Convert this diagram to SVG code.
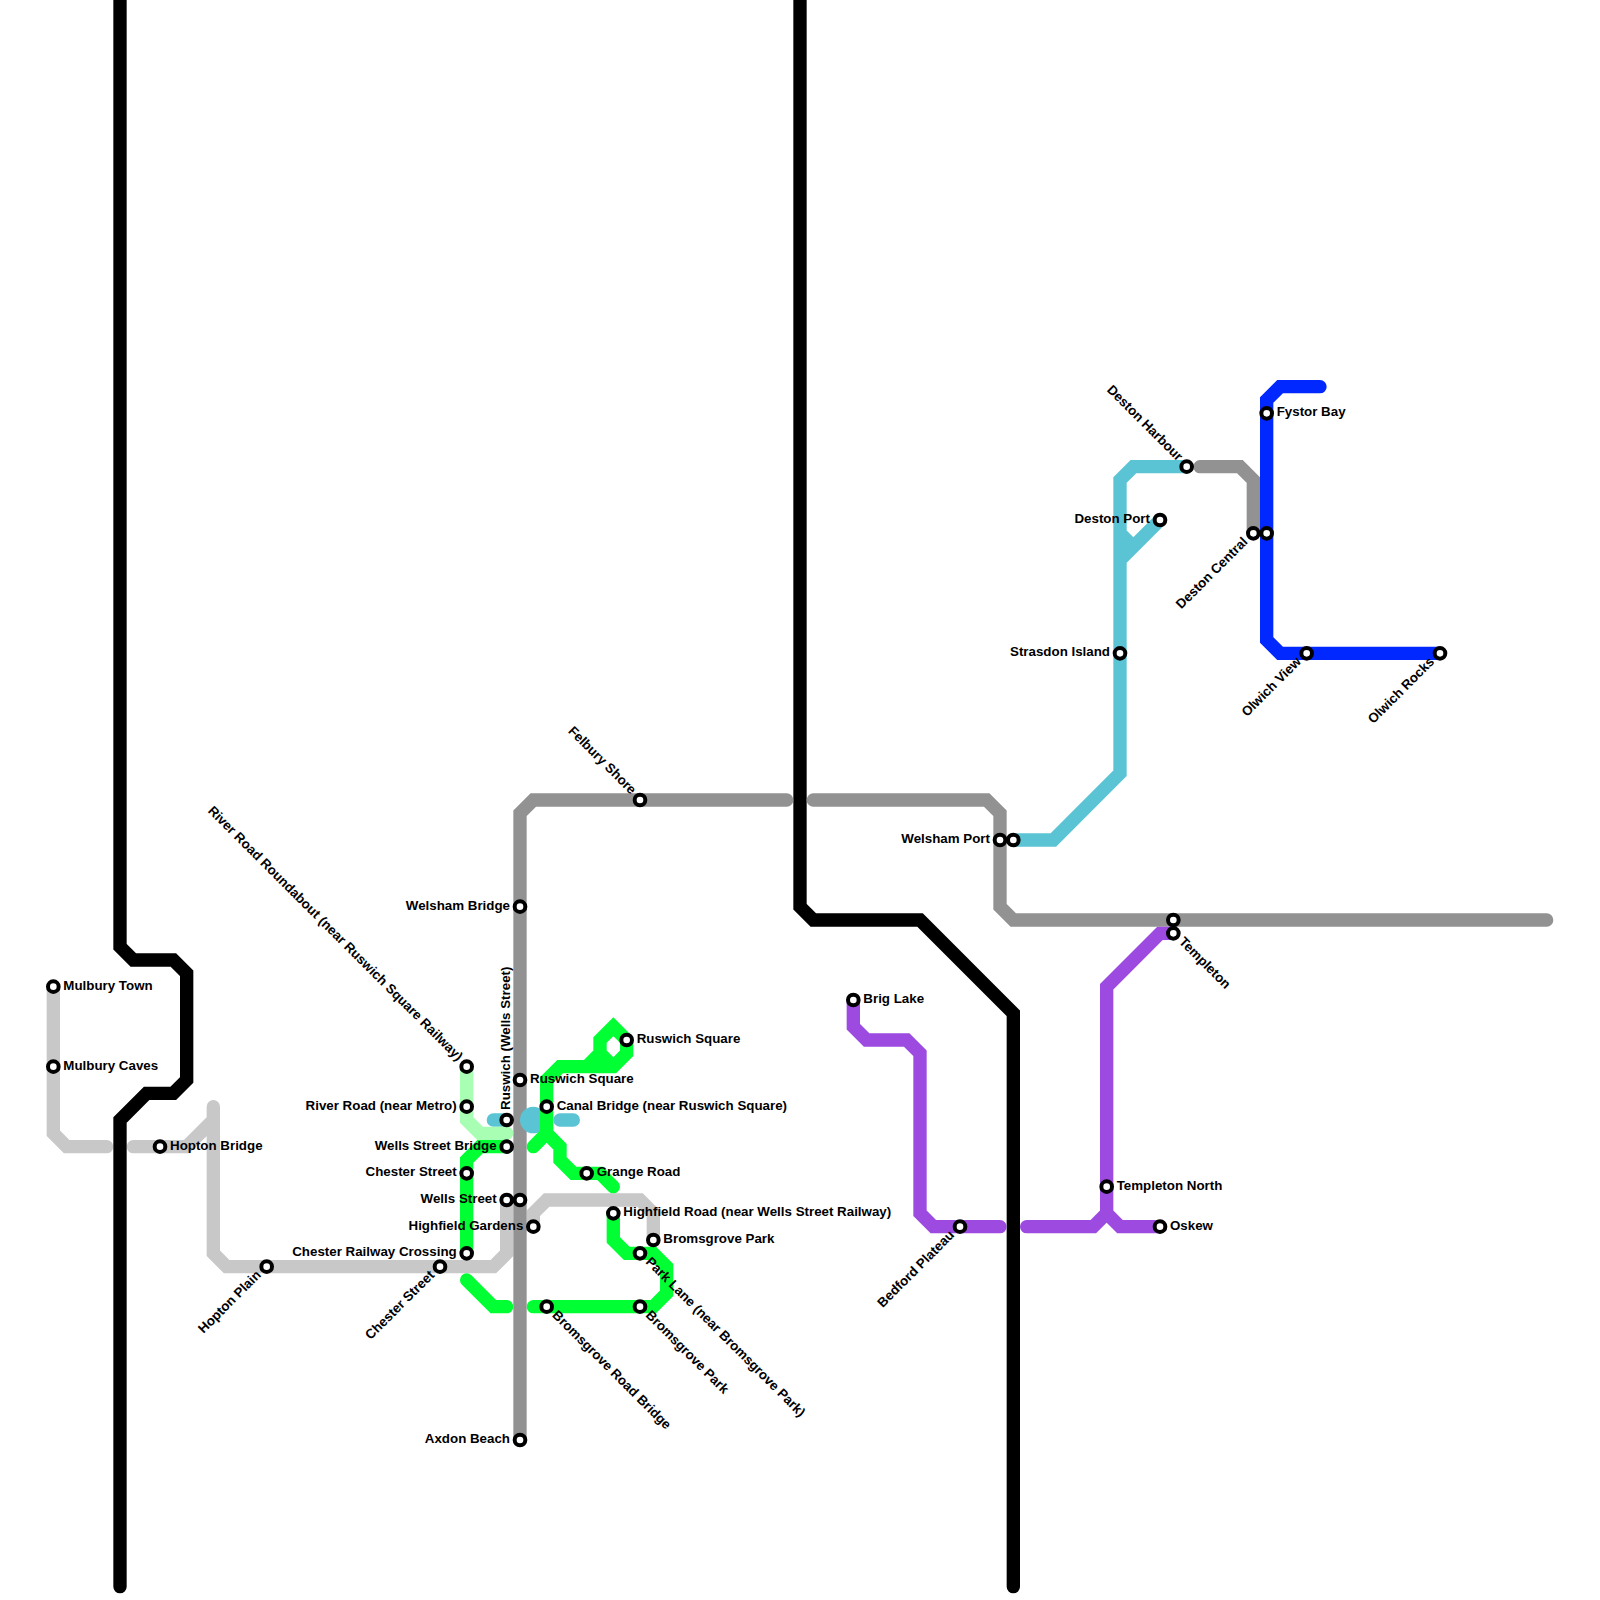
<svg xmlns="http://www.w3.org/2000/svg" width="1600" height="1600" viewBox="0 0 1600 1600">
<style>
.l{fill:none;stroke-width:1;stroke-linecap:round;stroke-linejoin:miter}
.k{stroke:#000}.lg{stroke:#c8c8c8}.dg{stroke:#929292}.c{stroke:#5bc4d4}.b{stroke:#0028ff}.p{stroke:#9d4ae0}.g{stroke:#00ff33}.lt{stroke:#a8ffb4}
.s{fill:#fff;stroke:#000;stroke-width:4}
text{font-family:"Liberation Sans",Arial,sans-serif;font-size:13.33px;font-weight:700;fill:#000}
.e{text-anchor:end}
</style>
<rect width="1600" height="1600" fill="#fff"/>
<g id="connectors" transform="scale(13.33333)">
<path class="l lg" d="M4 74V85L5 86H8M10 86H14L16 84M16 83V94L17 95H37L38 94V90M40 92V91L41 90H48L49 91V93"/>
<path class="l k" d="M9 0V71L10 72H13L14 73V81L13 82H11L9 84V119"/>
<path class="l k" d="M60 0V68L61 69H69L76 76V119"/>
<path class="l dg" d="M39 108V61L40 60H59M61 60H74L75 61V68L76 69H116"/>
<path class="l dg" d="M90 35H93L94 36V40"/>
<path class="l c" d="M76 63H79L84 58V36L85 35H89M87 39L84 42M84 40L85 41M37 84H38M42 84H43"/>
<circle cx="40" cy="84" r="1" fill="#5bc4d4"/>
<path class="l b" d="M99 29H96L95 30V48L96 49H108"/>
<path class="l p" d="M64 75V77L65 78H68L69 79V91L70 92H75M77 92H82L83 91V74L87 70H88M83 91L84 92H87"/>
<path class="l lt" d="M35 80V84L36 85H38"/>
<path class="l g" d="M38 86H36L35 87V94M35 96L37 98H38M46 91V93L47 94H49L50 95V97L49 98H40"/>
<path class="l g" d="M41 83V81L42 80H46L47 79V78L46 77L45 78V79L46 80M45 79L44 80M41 83V85L40 86M41 85L42 86V87L43 88H45L46 89"/>
</g>
<g id="n-mulbury-town"><circle class="s" cx="53.33" cy="986.67" r="5.33"/><text transform="translate(53.33,986.67)" x="10" y="3">Mulbury Town</text></g>
<g id="n-mulbury-caves"><circle class="s" cx="53.33" cy="1066.67" r="5.33"/><text transform="translate(53.33,1066.67)" x="10" y="3">Mulbury Caves</text></g>
<g id="n-hopton-bridge"><circle class="s" cx="160" cy="1146.67" r="5.33"/><text transform="translate(160,1146.67)" x="10" y="3">Hopton Bridge</text></g>
<g id="n-hopton-plain"><circle class="s" cx="266.67" cy="1266.67" r="5.33"/><text class="e" transform="translate(266.67,1266.67) rotate(-45)" x="-10" y="3">Hopton Plain</text></g>
<g id="n-chester-street-a"><circle class="s" cx="440" cy="1266.67" r="5.33"/><text class="e" transform="translate(440,1266.67) rotate(-45)" x="-10" y="3">Chester Street</text></g>
<g id="n-chester-railway"><circle class="s" cx="466.67" cy="1253.33" r="5.33"/><text class="e" transform="translate(466.67,1253.33)" x="-10" y="3">Chester Railway Crossing</text></g>
<g id="n-chester-street-b"><circle class="s" cx="466.67" cy="1173.33" r="5.33"/><text class="e" transform="translate(466.67,1173.33)" x="-10" y="3">Chester Street</text></g>
<g id="n-wells-street-bridge"><circle class="s" cx="506.67" cy="1146.67" r="5.33"/><text class="e" transform="translate(506.67,1146.67)" x="-10" y="3">Wells Street Bridge</text></g>
<g id="n-ruswich-wells"><circle class="s" cx="506.67" cy="1120" r="5.33"/><text transform="translate(506.67,1120) rotate(-90)" x="10" y="3">Ruswich (Wells Street)</text></g>
<g id="n-river-road-metro"><circle class="s" cx="466.67" cy="1106.67" r="5.33"/><text class="e" transform="translate(466.67,1106.67)" x="-10" y="3">River Road (near Metro)</text></g>
<g id="n-river-road-roundabout"><circle class="s" cx="466.67" cy="1066.67" r="5.33"/><text class="e" transform="translate(466.67,1066.67) rotate(45)" x="-10" y="3">River Road Roundabout (near Ruswich Square Railway)</text></g>
<g id="n-ruswich-square-a"><circle class="s" cx="520" cy="1080" r="5.33"/><text transform="translate(520,1080)" x="10" y="3">Ruswich Square</text></g>
<g id="n-wells-street-a"><circle class="s" cx="506.67" cy="1200" r="5.33"/><text class="e" transform="translate(506.67,1200)" x="-10" y="3">Wells Street</text></g>
<g id="n-wells-street-b"><circle class="s" cx="520" cy="1200" r="5.33"/></g>
<g id="n-highfield-gardens"><circle class="s" cx="533.33" cy="1226.67" r="5.33"/><text class="e" transform="translate(533.33,1226.67)" x="-10" y="3">Highfield Gardens</text></g>
<g id="n-welsham-bridge"><circle class="s" cx="520" cy="906.67" r="5.33"/><text class="e" transform="translate(520,906.67)" x="-10" y="3">Welsham Bridge</text></g>
<g id="n-axdon-beach"><circle class="s" cx="520" cy="1440" r="5.33"/><text class="e" transform="translate(520,1440)" x="-10" y="3">Axdon Beach</text></g>
<g id="n-felbury-shore"><circle class="s" cx="640" cy="800" r="5.33"/><text class="e" transform="translate(640,800) rotate(45)" x="-10" y="3">Felbury Shore</text></g>
<g id="n-canal-bridge"><circle class="s" cx="546.67" cy="1106.67" r="5.33"/><text transform="translate(546.67,1106.67)" x="10" y="3">Canal Bridge (near Ruswich Square)</text></g>
<g id="n-ruswich-square-b"><circle class="s" cx="626.67" cy="1040" r="5.33"/><text transform="translate(626.67,1040)" x="10" y="3">Ruswich Square</text></g>
<g id="n-grange-road"><circle class="s" cx="586.67" cy="1173.33" r="5.33"/><text transform="translate(586.67,1173.33)" x="10" y="3">Grange Road</text></g>
<g id="n-highfield-road"><circle class="s" cx="613.33" cy="1213.33" r="5.33"/><text transform="translate(613.33,1213.33)" x="10" y="3">Highfield Road (near Wells Street Railway)</text></g>
<g id="n-bromsgrove-park-a"><circle class="s" cx="653.33" cy="1240" r="5.33"/><text transform="translate(653.33,1240)" x="10" y="3">Bromsgrove Park</text></g>
<g id="n-park-lane"><circle class="s" cx="640" cy="1253.33" r="5.33"/><text transform="translate(640,1253.33) rotate(45)" x="10" y="3">Park Lane (near Bromsgrove Park)</text></g>
<g id="n-bromsgrove-park-b"><circle class="s" cx="640" cy="1306.67" r="5.33"/><text transform="translate(640,1306.67) rotate(45)" x="10" y="3">Bromsgrove Park</text></g>
<g id="n-bromsgrove-road-bridge"><circle class="s" cx="546.67" cy="1306.67" r="5.33"/><text transform="translate(546.67,1306.67) rotate(45)" x="10" y="3">Bromsgrove Road Bridge</text></g>
<g id="n-brig-lake"><circle class="s" cx="853.33" cy="1000" r="5.33"/><text transform="translate(853.33,1000)" x="10" y="3">Brig Lake</text></g>
<g id="n-bedford-plateau"><circle class="s" cx="960" cy="1226.67" r="5.33"/><text class="e" transform="translate(960,1226.67) rotate(-45)" x="-10" y="3">Bedford Plateau</text></g>
<g id="n-welsham-port-a"><circle class="s" cx="1000" cy="840" r="5.33"/><text class="e" transform="translate(1000,840)" x="-10" y="3">Welsham Port</text></g>
<g id="n-welsham-port-b"><circle class="s" cx="1013.33" cy="840" r="5.33"/></g>
<g id="n-strasdon-island"><circle class="s" cx="1120" cy="653.33" r="5.33"/><text class="e" transform="translate(1120,653.33)" x="-10" y="3">Strasdon Island</text></g>
<g id="n-deston-port"><circle class="s" cx="1160" cy="520" r="5.33"/><text class="e" transform="translate(1160,520)" x="-10" y="3">Deston Port</text></g>
<g id="n-deston-harbour"><circle class="s" cx="1186.67" cy="466.67" r="5.33"/><text class="e" transform="translate(1186.67,466.67) rotate(45)" x="-10" y="3">Deston Harbour</text></g>
<g id="n-deston-central-a"><circle class="s" cx="1253.33" cy="533.33" r="5.33"/><text class="e" transform="translate(1253.33,533.33) rotate(-45)" x="-10" y="3">Deston Central</text></g>
<g id="n-deston-central-b"><circle class="s" cx="1266.67" cy="533.33" r="5.33"/></g>
<g id="n-fystor-bay"><circle class="s" cx="1266.67" cy="413.33" r="5.33"/><text transform="translate(1266.67,413.33)" x="10" y="3">Fystor Bay</text></g>
<g id="n-olwich-view"><circle class="s" cx="1306.67" cy="653.33" r="5.33"/><text class="e" transform="translate(1306.67,653.33) rotate(-45)" x="-10" y="3">Olwich View</text></g>
<g id="n-olwich-rocks"><circle class="s" cx="1440" cy="653.33" r="5.33"/><text class="e" transform="translate(1440,653.33) rotate(-45)" x="-10" y="3">Olwich Rocks</text></g>
<g id="n-templeton-a"><circle class="s" cx="1173.33" cy="920" r="5.33"/></g>
<g id="n-templeton-b"><circle class="s" cx="1173.33" cy="933.33" r="5.33"/><text transform="translate(1173.33,933.33) rotate(45)" x="10" y="3">Templeton</text></g>
<g id="n-templeton-north"><circle class="s" cx="1106.67" cy="1186.67" r="5.33"/><text transform="translate(1106.67,1186.67)" x="10" y="3">Templeton North</text></g>
<g id="n-oskew"><circle class="s" cx="1160" cy="1226.67" r="5.33"/><text transform="translate(1160,1226.67)" x="10" y="3">Oskew</text></g>
</svg>
